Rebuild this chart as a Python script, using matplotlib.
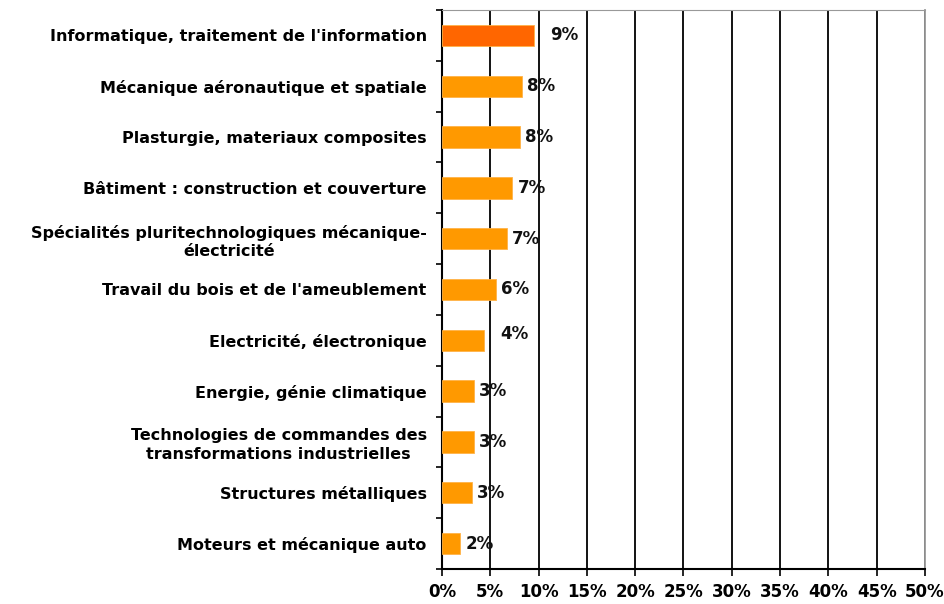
import numpy as np
import matplotlib.pyplot as plt

categories = [
    "Informatique, traitement de l'information",
    "Mécanique aéronautique et spatiale",
    "Plasturgie, materiaux composites",
    "Bâtiment : construction et couverture",
    "Spécialités pluritechnologiques mécanique-\nélectricité",
    "Travail du bois et de l'ameublement",
    "Electricité, électronique",
    "Energie, génie climatique",
    "Technologies de commandes des\ntransformations industrielles",
    "Structures métalliques",
    "Moteurs et mécanique auto",
]
values = [9.5, 8.3, 8.1, 7.3, 6.7, 5.6, 4.4, 3.3, 3.3, 3.1, 1.9]
value_labels = ["9%", "8%", "8%", "7%", "7%", "6%", "4%", "3%", "3%", "3%", "2%"]
xticks = [0, 5, 10, 15, 20, 25, 30, 35, 40, 45, 50]

plt.rcParams['font.family'] = ['DejaVu Sans']

fig = plt.figure(figsize=(9.45, 6.04), dpi=100)
ax = fig.add_axes([0.4677, 0.058, 0.9788 - 0.4677, 0.9834 - 0.058])

y = np.arange(len(categories))
colors = ['#FF6600'] + ['#FF9900'] * (len(categories) - 1)
ax.barh(y, values, height=0.42, color=colors, edgecolor='#FFB347', linewidth=0.6, zorder=3)

for i, (v, lab) in enumerate(zip(values, value_labels)):
    dx = 16 if i in (0, 6) else 5
    dy = 6 if i == 6 else 0
    ax.annotate(lab, (v, i), xytext=(dx, dy), textcoords='offset pixels',
                va='center', ha='left', fontsize=12, fontweight='bold', color='#111111', zorder=4)

ax.set_xlim(0, 50)
ax.set_ylim(len(categories) - 0.5, -0.5)
ax.set_xticks(xticks)
ax.set_xticklabels([f"{t}%" for t in xticks], fontsize=12, fontweight='bold')
ax.set_yticks(y)
ax.set_yticklabels(categories, fontsize=11.5, fontweight='bold', linespacing=1.3,
                   multialignment='center')
ax.tick_params(axis='y', length=0, pad=11)
ax.set_yticks(np.arange(-0.5, len(categories) + 0.5, 1), minor=True)
ax.tick_params(axis='y', which='minor', length=4, width=1.2, direction='out')
ax.tick_params(axis='x', length=5, width=1.2, direction='out', pad=5)

ax.grid(axis='x', color='black', linewidth=1.3, zorder=1)
for side in ['left', 'bottom']:
    ax.spines[side].set_linewidth(1.5)
ax.spines['top'].set_color('#999999')
ax.spines['right'].set_color('#999999')
ax.spines['right'].set_linewidth(1.3)

fig.savefig('out.png', dpi=100)
